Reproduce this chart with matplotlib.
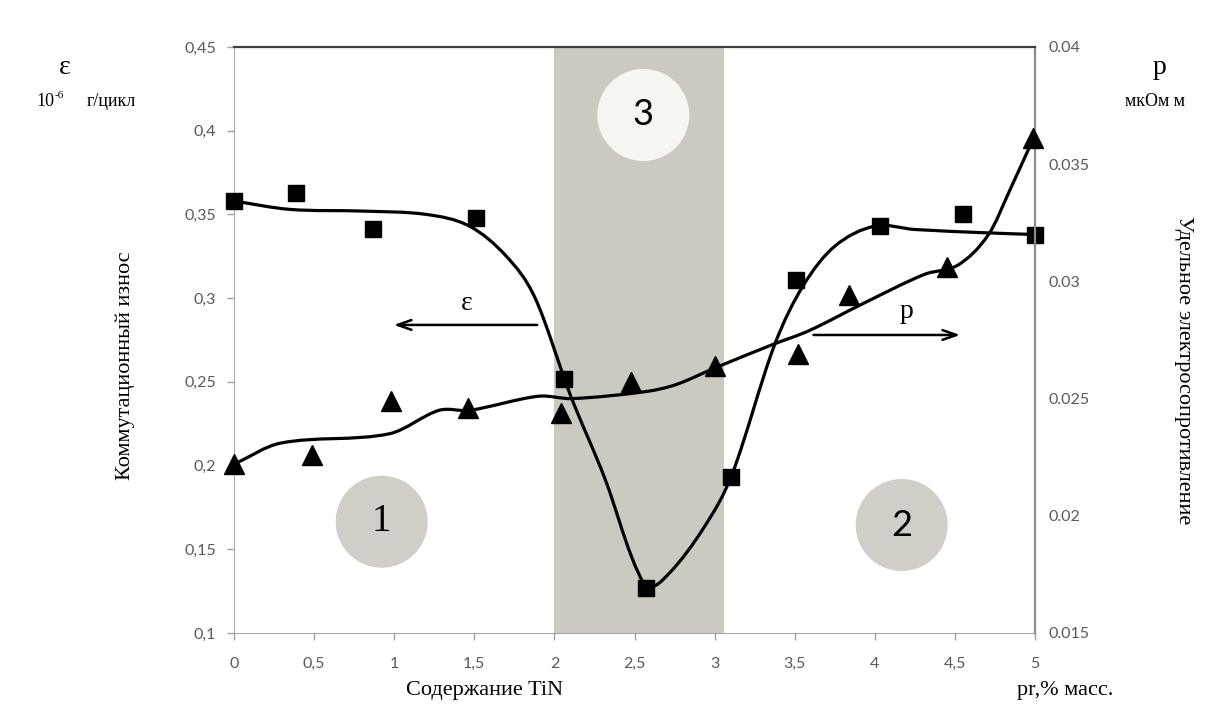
import numpy as np
import matplotlib
matplotlib.use('Agg')
import matplotlib.pyplot as plt
from matplotlib.path import Path
from matplotlib.patches import PathPatch, Ellipse

# --- данные ---
# износ ε (левая ось), квадраты
eps_x = [0.0, 0.39, 0.87, 1.51, 2.06, 2.57, 3.10, 3.51, 4.03, 4.55, 5.0]
eps_y = [0.358, 0.363, 0.341, 0.348, 0.252, 0.127, 0.193, 0.311, 0.343, 0.350, 0.338]
# сглаженная кривая ε (узлы)
eps_fit_x = [0.0, 0.35, 0.8, 1.2, 1.47, 1.70, 1.88, 2.10, 2.32, 2.48, 2.58, 2.72, 2.94, 3.11, 3.37, 3.55, 3.75, 4.0, 4.25, 4.7, 5.0]
eps_fit_y = [0.358, 0.353, 0.352, 0.350, 0.343, 0.325, 0.300, 0.242, 0.191, 0.146, 0.128, 0.136, 0.164, 0.195, 0.271, 0.307, 0.331, 0.343, 0.341, 0.339, 0.338]

# удельное сопротивление p (правая ось), треугольники
p_x = [0.0, 0.49, 0.98, 1.46, 2.04, 2.48, 3.0, 3.52, 3.84, 4.45, 4.99]
p_y = [0.0222, 0.0226, 0.0249, 0.0246, 0.0244, 0.0257, 0.0264, 0.0269, 0.0294, 0.0306, 0.0361]
p_fit_x = [0.0, 0.29, 0.97, 1.28, 1.47, 1.90, 2.11, 2.57, 2.76, 3.0, 3.36, 3.59, 3.94, 4.31, 4.52, 4.71, 4.85, 4.99]
p_fit_y = [0.0222, 0.0231, 0.0235, 0.0245, 0.0245, 0.0251, 0.0250, 0.0253, 0.0256, 0.0263, 0.0273, 0.0279, 0.0291, 0.0303, 0.0307, 0.0320, 0.0340, 0.0361]

x_ticks = [0, 0.5, 1, 1.5, 2, 2.5, 3, 3.5, 4, 4.5, 5]
x_labels = ['0', '0,5', '1', '1,5', '2', '2,5', '3', '3,5', '4', '4,5', '5']
eps_ticks = [0.1, 0.15, 0.2, 0.25, 0.3, 0.35, 0.4, 0.45]
eps_labels = ['0,1', '0,15', '0,2', '0,25', '0,3', '0,35', '0,4', '0,45']
p_ticks = [0.015, 0.02, 0.025, 0.03, 0.035, 0.04]
p_labels = ['0.015', '0.02', '0.025', '0.03', '0.035', '0.04']
zone = (2.0, 3.06)

SERIF = 'Liberation Serif'
SANS = 'Lato'
TICK_C = '#595959'


def smooth_path(xs, ys):
    """кубический сплайн Эрмита по x -> кривые Безье (сглаженная линия)"""
    x = np.asarray(xs, float)
    y = np.asarray(ys, float)
    n = len(x)
    m = np.zeros(n)
    m[0] = (y[1] - y[0]) / (x[1] - x[0])
    m[-1] = (y[-1] - y[-2]) / (x[-1] - x[-2])
    for i in range(1, n - 1):
        m[i] = (y[i + 1] - y[i - 1]) / (x[i + 1] - x[i - 1])
    verts = [(x[0], y[0])]
    codes = [Path.MOVETO]
    for i in range(n - 1):
        dx = x[i + 1] - x[i]
        verts += [(x[i] + dx / 3, y[i] + m[i] * dx / 3),
                  (x[i + 1] - dx / 3, y[i + 1] - m[i + 1] * dx / 3),
                  (x[i + 1], y[i + 1])]
        codes += [Path.CURVE4] * 3
    return Path(verts, codes)


fig = plt.figure(figsize=(12.16, 7.16), dpi=100)
ax = fig.add_axes([234 / 1216, 1 - 633 / 716, (1035 - 234) / 1216, (633 - 47) / 716])
ax2 = ax.twinx()

ax.set_xlim(0, 5)
ax.set_ylim(0.1, 0.45)
ax2.set_ylim(0.015, 0.04)

# зона 3
ax.axvspan(zone[0], zone[1], color='#ccc9c1', lw=0, zorder=0)

# кривые
ax.add_patch(PathPatch(smooth_path(eps_fit_x, eps_fit_y), fill=False, lw=2.3, color='black', zorder=3, clip_on=False))
ax2.add_patch(PathPatch(smooth_path(p_fit_x, p_fit_y), fill=False, lw=2.3, color='black', zorder=3, clip_on=False))

# точки
ax.plot(eps_x, eps_y, 's', color='black', ms=11.5, zorder=4, clip_on=False)
ax2.plot(p_x, p_y, '^', color='black', ms=14, zorder=4, clip_on=False)

# оси
ax.set_xticks(x_ticks)
ax.set_xticklabels(x_labels)
ax.set_yticks(eps_ticks)
ax.set_yticklabels(eps_labels)
ax2.set_yticks(p_ticks)
ax2.set_yticklabels(p_labels)
for a in (ax, ax2):
    a.tick_params(labelsize=11.5, colors=TICK_C, length=5, width=1, pad=8)
    for lab in a.get_xticklabels() + a.get_yticklabels():
        lab.set_family(SANS)
    for s in a.spines.values():
        s.set_visible(False)
ax.tick_params(axis='x', pad=12)
ax2.tick_params(axis='y', length=0, pad=10, color='#a0a0a0')
ax.tick_params(color='#a0a0a0')
ax.spines['left'].set_visible(True)
ax.spines['left'].set_color('#a6a6a6')
ax.spines['bottom'].set_visible(True)
ax.spines['bottom'].set_color('#a6a6a6')
ax2.spines['top'].set_visible(True)
ax2.spines['top'].set_color('#404040')
ax2.spines['top'].set_linewidth(1.6)
ax2.spines['right'].set_visible(True)
ax2.spines['right'].set_color('#8c8c8c')
ax2.spines['right'].set_linewidth(1.6)
ax2.set_zorder(ax.get_zorder() + 1)
ax2.patch.set_visible(False)

# стрелки-указатели
ax.annotate('', xy=(0.98, 0.284), xytext=(1.91, 0.284),
            arrowprops=dict(arrowstyle='->,head_length=1.0,head_width=0.35', lw=1.8, color='black'))
ax.text(1.45, 0.297, 'ε', fontsize=20, family=SERIF, ha='center', va='center')
ax.annotate('', xy=(4.55, 0.278), xytext=(3.6, 0.278),
            arrowprops=dict(arrowstyle='->,head_length=1.0,head_width=0.35', lw=1.8, color='black'))
ax.text(4.2, 0.292, 'p', fontsize=20, family=SERIF, ha='center', va='center')

# кружки с номерами зон
circles = [('1', 381.7, 521.7, '#d0cec6', SERIF), ('2', 901.7, 525, '#d0cec6', SANS), ('3', 643.3, 115, '#f6f6f1', SANS)]
for num, px, py, fc, fam in circles:
    cx = (px - 234) / 801
    cy = (633 - py) / 586
    ax.add_patch(Ellipse((cx, cy), 92 / 801, 92 / 586, transform=ax.transAxes, fc=fc, ec='none', zorder=2))
    ax.text(cx, cy, num, transform=ax.transAxes, fontsize=28 if fam == SERIF else 26, family=fam,
            ha='center', va='center', zorder=5)

# подписи
fig.text(65 / 1216, 1 - 68 / 716, 'ε', fontsize=20, family=SERIF, ha='center', va='center')
fig.text(36 / 1216, 1 - 102 / 716, '10', fontsize=13, family=SERIF, ha='left', va='center')
fig.text(55 / 1216, 1 - 95 / 716, '-6', fontsize=8, family=SERIF, ha='left', va='center')
fig.text(87 / 1216, 1 - 102 / 716, 'г/цикл', fontsize=13, family=SERIF, ha='left', va='center')
fig.text(1160 / 1216, 1 - 68 / 716, 'p', fontsize=20, family=SERIF, ha='center', va='center')
fig.text(1155 / 1216, 1 - 101 / 716, 'мкОм м', fontsize=13, family=SERIF, ha='center', va='center')
fig.text(125 / 1216, 1 - 366 / 716, 'Коммутационный износ', fontsize=16, family=SERIF,
         rotation=90, ha='center', va='center')
fig.text(1183 / 1216, 1 - 370 / 716, 'Удельное электросопротивление', fontsize=16, family=SERIF,
         rotation=-90, ha='center', va='center')
fig.text(485 / 1216, 1 - 690 / 716, 'Содержание TiN', fontsize=16, family=SERIF, ha='center', va='center')
fig.text(1065 / 1216, 1 - 690 / 716, 'pr,% масс.', fontsize=16, family=SERIF, ha='center', va='center')

fig.savefig('out.png', dpi=100, facecolor='white')
